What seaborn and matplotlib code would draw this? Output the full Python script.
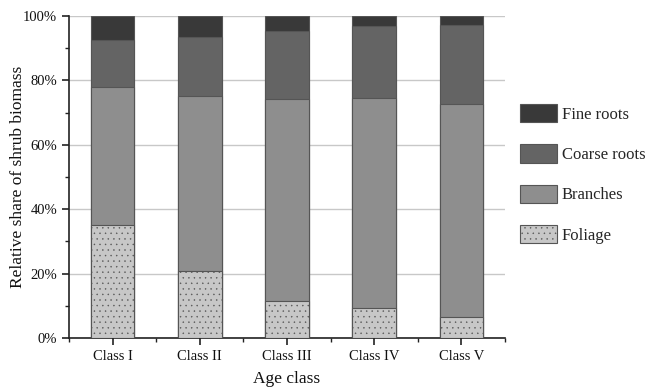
import numpy as np
import pandas as pd
import matplotlib
matplotlib.use("Agg")
import matplotlib.pyplot as plt
import seaborn as sns
from matplotlib.patches import Patch
from matplotlib.ticker import MultipleLocator, PercentFormatter

classes = ["Class I", "Class II", "Class III", "Class IV", "Class V"]
foliage = [35.1, 20.8, 11.5, 9.3, 6.5]
branches = [42.9, 54.4, 62.6, 65.2, 66.3]
coarse_roots = [14.6, 18.4, 21.1, 22.3, 24.5]
fine_roots = [7.4, 6.4, 4.8, 3.2, 2.7]

components = ["Foliage", "Branches", "Coarse roots", "Fine roots"]
colors = {"Foliage": "#c7c7c7", "Branches": "#8e8e8e",
          "Coarse roots": "#646464", "Fine roots": "#393939"}

df = pd.DataFrame({"Age class": classes, "Foliage": foliage,
                   "Branches": branches, "Coarse roots": coarse_roots,
                   "Fine roots": fine_roots})
cum = df[components].cumsum(axis=1)

sns.set_theme(style="white")
plt.rcParams["font.family"] = ["Liberation Serif", "DejaVu Serif"]
plt.rcParams["hatch.color"] = "#b8b8b8"
plt.rcParams["hatch.linewidth"] = 0.3

fig = plt.figure(figsize=(6.46, 3.89), dpi=100)
ax = fig.add_axes([69 / 646, 51 / 389, 436 / 646, 322 / 389])

# stacked bars: draw cumulative totals from the top component down
for comp in reversed(components):
    sns.barplot(x=df["Age class"], y=cum[comp], color=colors[comp],
                width=0.5, saturation=1, edgecolor="#555555", linewidth=0.8,
                ax=ax, zorder=3)
    if comp == "Foliage":
        n = len(classes)
        for p in ax.patches[-n:]:
            p.set_hatch("...")

ax.set_xlim(-0.5, 4.5)
ax.set_ylim(0, 100)
ax.yaxis.set_major_locator(MultipleLocator(20))
ax.yaxis.set_minor_locator(MultipleLocator(10))
ax.yaxis.set_major_formatter(PercentFormatter(decimals=0))
ax.set_xticks(np.arange(len(classes)))
ax.set_xticks(np.arange(len(classes) + 1) - 0.5, minor=True)
ax.grid(axis="y", color="#c8c8c8", linewidth=1.0, zorder=0)
ax.set_axisbelow(True)

for s in ["top", "right"]:
    ax.spines[s].set_visible(False)
for s in ["left", "bottom"]:
    ax.spines[s].set_color("#222222")
    ax.spines[s].set_linewidth(1.2)

ax.tick_params(axis="both", which="major", direction="out", length=5,
               width=1.2, color="#222222", labelsize=10.5, labelcolor="#111111",
               left=True, bottom=True)
ax.tick_params(axis="both", which="minor", direction="out", length=3,
               width=1.0, color="#222222", left=True, bottom=True)

ax.set_xlabel("Age class", fontsize=12.5, color="#111111", labelpad=6)
ax.set_ylabel("Relative share of shrub biomass", fontsize=12.5,
              color="#111111")
ax.yaxis.set_label_coords(-0.098, 0.5)

handles = [Patch(facecolor=colors[c], edgecolor="#555555", linewidth=0.8,
                 hatch="..." if c == "Foliage" else None, label=c)
           for c in reversed(components)]
fig.legend(handles=handles, loc="upper left",
           bbox_to_anchor=(520 / 646, 1 - 104 / 389), frameon=False,
           borderpad=0, borderaxespad=0, fontsize=12, handlelength=2.2,
           handleheight=1.3, labelspacing=1.3, handletextpad=0.3)

fig.savefig("out.png", dpi=100)
